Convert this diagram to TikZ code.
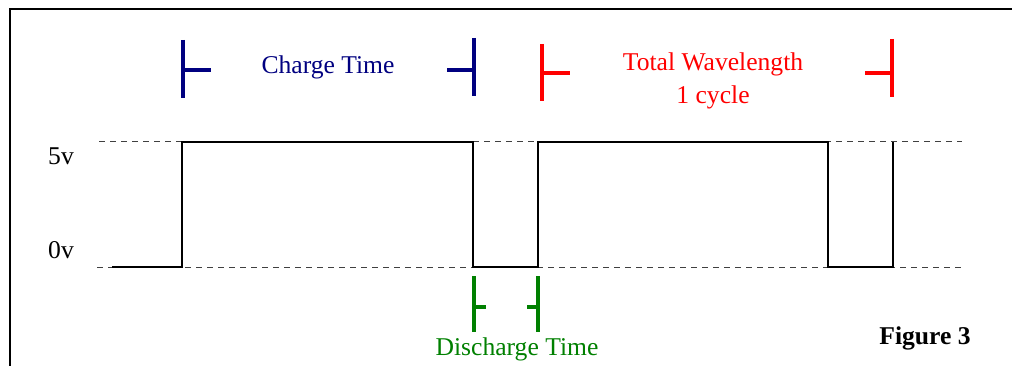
\documentclass[tikz,border=0pt]{standalone}
\usepackage{fontspec}
\setmainfont{Liberation Serif}
\definecolor{navy}{RGB}{0,0,128}
\definecolor{dgreen}{RGB}{0,128,0}
\begin{document}
\begin{tikzpicture}[x=1pt,y=-1pt,
  lbl/.style={font=\fontsize{25.6}{33}\selectfont, inner sep=0pt, anchor=center},
  sig/.style={line width=2pt, black},
  lvl/.style={line width=1pt, black!75, dash pattern=on 6pt off 5pt},
  tick/.style={line width=3.5pt},
  frame/.style={line width=2pt}]
\useasboundingbox (0,0) rectangle (1012,366);
% frame
\draw[frame] (9.5,366) -- (9.5,9.5) -- (1012,9.5);
% level lines
\draw[lvl] (99,142) -- (962,142);
\draw[lvl] (97,267) -- (962,267);
% signal
\draw[sig] (112,267) -- (182,267) -- (182,142) -- (473,142) -- (473,267) -- (538,267) -- (538,142) -- (828,142) -- (828,267) -- (893,267) -- (893,142);
% level labels
\node[lbl] (v5) at (61,156) {5v};
\node[lbl] (v0) at (61,250) {0v};
% charge time
\draw[tick, navy] (183,40) -- (183,98) (183,70) -- (211,70);
\draw[tick, navy] (474,38) -- (474,96) (447,70) -- (474,70);
\node[lbl, text=navy] (charge) at (328,67) {Charge Time};
% total wavelength
\draw[tick, red] (542,44) -- (542,101) (542,73) -- (570,73);
\draw[tick, red] (892,39) -- (892,97) (865,73) -- (892,73);
\node[lbl, text=red, align=center] (total) at (713,81) {Total Wavelength\\1 cycle};
% discharge
\draw[tick, dgreen] (474,276) -- (474,332) (474,307) -- (486,307);
\draw[tick, dgreen] (538,276) -- (538,332) (527,307) -- (538,307);
\node[lbl, text=dgreen] (discharge) at (517,349) {Discharge Time};
% figure label
\node[lbl, font=\fontsize{25.6}{33}\selectfont\bfseries] (fig) at (925,338) {Figure 3};
\end{tikzpicture}
\end{document}
